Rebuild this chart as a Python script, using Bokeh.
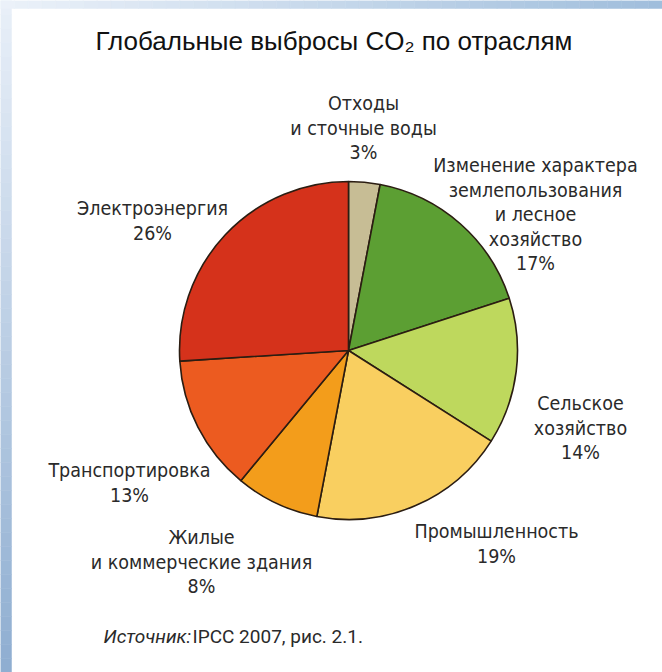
import math
from bokeh.plotting import figure
from bokeh.models import Range1d, ColumnDataSource
from bokeh.embed import file_html
from bokeh.resources import INLINE
from bokeh.core.properties import value

# ---- data ----
title_text = "Глобальные выбросы CO₂  по отраслям"
sectors = [
    "Отходы\nи сточные воды",
    "Изменение характера\nземлепользования\nи лесное\nхозяйство",
    "Сельское\nхозяйство",
    "Промышленность",
    "Жилые\nи коммерческие здания",
    "Транспортировка",
    "Электроэнергия",
]
shares = [3, 17, 14, 19, 8, 13, 26]
colors = ["#c7bd95", "#5c9f33", "#bed85d", "#f9cf60", "#f39d1b", "#ec5b20", "#d5321b"]
source_italic = "Источник:"
source_rest = "IPCC 2007, рис. 2.1."

# ---- layout (page pixel coordinates) ----
W, H = 662, 672
def px(sx):
    return sx
def py(sy):
    return H - sy

center = (348, 350)
radius = 169
label_anchor = [(363, 103), (535, 165), (580, 403), (496, 531), (201, 537), (129, 470), (152, 208)]
line_step = 24.5
FONT = "DejaVu Sans Condensed"

p = figure(width=W, height=H, output_backend="svg", toolbar_location=None,
           x_range=Range1d(0, W), y_range=Range1d(0, H), min_border=0,
           background_fill_color="white", border_fill_color="white")
p.axis.visible = False
p.grid.visible = False
p.outline_line_color = None

# decorative blue frame (gradient strips)
def mix(c1, c2, t):
    return "#%02x%02x%02x" % tuple(int(round(a + (b - a) * t)) for a, b in zip(c1, c2))
n = 48
left_top, left_bot = (232, 239, 248), (143, 174, 209)
top_left, top_right = (235, 241, 249), (160, 190, 220)
lq = dict(left=[], right=[], top=[], bottom=[], color=[])
for i in range(n):
    t = i / (n - 1)
    lq["left"].append(0); lq["right"].append(11)
    lq["top"].append(py(H * i / n)); lq["bottom"].append(py(H * (i + 1) / n))
    lq["color"].append(mix(left_top, left_bot, t))
for i in range(n):
    t = i / (n - 1)
    lq["left"].append(W * i / n); lq["right"].append(W * (i + 1) / n)
    lq["top"].append(py(0)); lq["bottom"].append(py(8))
    lq["color"].append(mix(top_left, top_right, t))
p.quad(left="left", right="right", top="top", bottom="bottom", fill_color="color",
       line_color="color", line_width=0.5, source=ColumnDataSource(lq))

# pie
total = float(sum(shares))
starts, ends = [], []
cum = 0.0
for s in shares:
    starts.append(math.pi / 2 - 2 * math.pi * cum / total)
    cum += s
    ends.append(math.pi / 2 - 2 * math.pi * cum / total)
src = ColumnDataSource(dict(x=[px(center[0])] * len(shares), y=[py(center[1])] * len(shares),
                            start=starts, end=ends, color=colors))
p.wedge(x="x", y="y", radius=radius, start_angle="start", end_angle="end", direction="clock",
        fill_color="color", line_color="#2b1d12", line_width=1.6, source=src)

# labels
lx, ly, lt = [], [], []
for name, share, (ax, ay) in zip(sectors, shares, label_anchor):
    lines = name.split("\n") + [f"{share}%"]
    for i, ln in enumerate(lines):
        lx.append(px(ax))
        ly.append(py(ay + i * line_step))
        lt.append(ln)
p.text(x=lx, y=ly, text=lt, text_align="center", text_baseline="middle",
       text_font=value(FONT), text_font_size="19.5px", text_color="#2a2a2a")

# title
p.text(x=[px(337)], y=[py(40)], text=[title_text], text_align="center", text_baseline="middle",
       text_font=value("Liberation Sans"), text_font_size="26px", text_color="#111111")

# source
p.text(x=[px(103)], y=[py(636)], text=[source_italic], text_align="left", text_baseline="middle",
       text_font=value("Roboto"), text_font_size="19px", text_font_style="italic", text_color="#2a2a2a")
p.text(x=[px(192)], y=[py(636)], text=[source_rest], text_align="left", text_baseline="middle",
       text_font=value("Roboto"), text_font_size="19px", text_color="#2a2a2a")

open("out.html", "w").write(file_html(p, INLINE))
